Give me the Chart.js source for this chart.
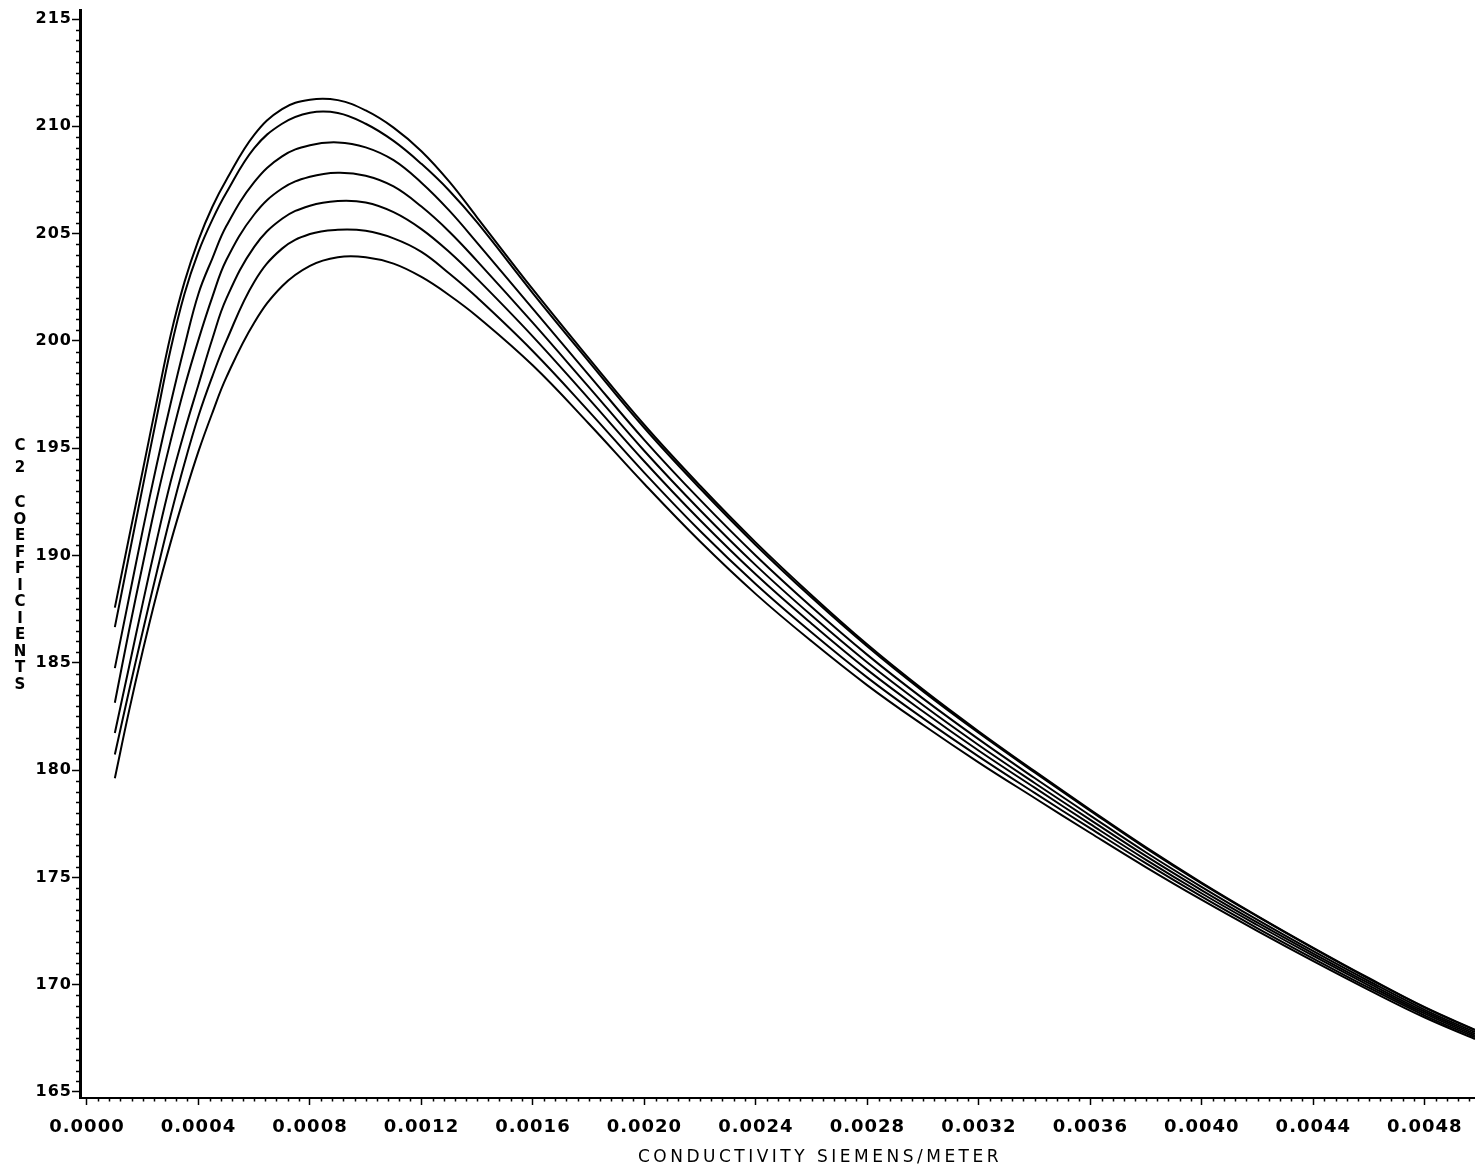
<!DOCTYPE html>
<html>
<head>
<meta charset="utf-8">
<script src="https://cdn.jsdelivr.net/npm/chart.js@4.4.1/dist/chart.umd.min.js"></script>
<style>
  html, body { margin: 0; padding: 0; background: #ffffff; }
  canvas { display: block; }
</style>
</head>
<body>
<canvas id="c2chart" width="1475" height="1171"></canvas>
<script>
// Conductivity (S/m) at which each C2 curve is sampled
const conductivity = [0.0001, 0.00015, 0.0002, 0.00025, 0.0003, 0.00035, 0.0004, 0.00045, 0.0005, 0.0006,
  0.0007, 0.0008, 0.0009, 0.001, 0.0011, 0.0012, 0.0013, 0.0014, 0.0016, 0.0018,
  0.002, 0.0022, 0.0024, 0.0026, 0.0028, 0.003, 0.0032, 0.0034, 0.0036, 0.0038,
  0.004, 0.0042, 0.0044, 0.0046, 0.0048, 0.00498];

// C2 coefficient curves, highest peak first
const c2Curve1 = [187.57, 190.78, 193.95, 197.15, 200.25, 202.75, 204.7, 206.25, 207.5, 209.6,
  210.8, 211.24, 211.22, 210.74, 209.94, 208.84, 207.42, 205.75, 202.4, 199.2,
  196.08, 193.25, 190.6, 188.15, 185.85, 183.75, 181.8, 179.95, 178.15, 176.4,
  174.75, 173.2, 171.72, 170.3, 168.95, 167.9];
const c2Curve2 = [186.66, 189.94, 193.2, 196.43, 199.6, 202.2, 204.15, 205.65, 206.9, 208.98,
  210.12, 210.63, 210.62, 210.12, 209.32, 208.25, 207.0, 205.52, 202.22, 199.05,
  195.94, 193.12, 190.48, 188.04, 185.76, 183.67, 181.73, 179.89, 178.1, 176.35,
  174.71, 173.17, 171.69, 170.27, 168.93, 167.88];
const c2Curve3 = [184.75, 187.97, 191.17, 194.22, 197.07, 199.75, 202.2, 203.85, 205.35, 207.4,
  208.6, 209.12, 209.25, 209.02, 208.42, 207.37, 206.07, 204.57, 201.49, 198.42,
  195.38, 192.59, 189.99, 187.6, 185.37, 183.33, 181.43, 179.63, 177.88, 176.16,
  174.55, 173.02, 171.56, 170.16, 168.83, 167.79];
const c2Curve4 = [183.14, 186.45, 189.57, 192.6, 195.33, 197.84, 200.05, 202.05, 203.77, 205.89,
  207.1, 207.65, 207.84, 207.7, 207.2, 206.26, 205.09, 203.72, 200.84, 197.86,
  194.87, 192.11, 189.54, 187.2, 185.01, 183.02, 181.16, 179.4, 177.68, 175.99,
  174.4, 172.89, 171.45, 170.06, 168.74, 167.71];
const c2Curve5 = [181.73, 184.75, 187.77, 190.69, 193.42, 195.79, 197.96, 200.1, 201.97, 204.38,
  205.69, 206.3, 206.52, 206.45, 206.0, 205.21, 204.14, 202.89, 200.2, 197.31,
  194.38, 191.64, 189.11, 186.82, 184.67, 182.73, 180.9, 179.18, 177.48, 175.82,
  174.25, 172.77, 171.34, 169.96, 168.65, 167.63];
const c2Curve6 = [180.73, 183.64, 186.46, 189.2, 191.85, 194.3, 196.5, 198.35, 200.0, 202.75,
  204.3, 204.98, 205.18, 205.13, 204.78, 204.15, 203.14, 202.02, 199.52, 196.73,
  193.85, 191.14, 188.66, 186.41, 184.31, 182.41, 180.63, 178.94, 177.28, 175.65,
  174.1, 172.63, 171.22, 169.85, 168.56, 167.55];
const c2Curve7 = [179.62, 182.7, 185.55, 188.2, 190.6, 192.8, 194.85, 196.65, 198.3, 200.85,
  202.55, 203.5, 203.9, 203.9, 203.6, 202.98, 202.13, 201.14, 198.85, 196.15,
  193.33, 190.65, 188.2, 186.0, 183.95, 182.1, 180.35, 178.7, 177.07, 175.47,
  173.95, 172.5, 171.1, 169.75, 168.47, 167.47];

// Labelled axis ticks
const yTickValues = [165, 170, 175, 180, 185, 190, 195, 200, 205, 210, 215];
const xTickValues = [0, 0.0004, 0.0008, 0.0012, 0.0016, 0.002, 0.0024, 0.0028, 0.0032, 0.0036, 0.004, 0.0044, 0.0048];
const yMinorStep = 0.5;
const xMinorStep = 0.00004;

const xAxisTitle = 'CONDUCTIVITY SIEMENS/METER';
const yAxisTitle = 'C2 COEFFICIENTS';

const curves = [c2Curve1, c2Curve2, c2Curve3, c2Curve4, c2Curve5, c2Curve6, c2Curve7];

const FONT = "'DejaVu Sans', 'Liberation Sans', sans-serif";
Chart.defaults.font.family = FONT;
Chart.defaults.color = '#000';

// Wider, plotter-like letter spacing for the axis numbers
const tickSpacing = {
  id: 'tickSpacing',
  beforeDraw(chart) { chart.ctx.letterSpacing = '1px'; },
  afterDraw(chart) { chart.ctx.letterSpacing = '0px'; }
};

// Short unlabelled ticks between the numbered ones
const minorTicks = {
  id: 'minorTicks',
  afterDraw(chart) {
    const { ctx, chartArea, scales: { x, y } } = chart;
    ctx.save();
    ctx.strokeStyle = '#000';
    ctx.lineWidth = 1.5;
    ctx.beginPath();
    const yFirst = yTickValues[0], yLast = yTickValues[yTickValues.length - 1];
    for (let k = 0; yFirst + k * yMinorStep <= yLast + 1e-9; k++) {
      if (k % 10 === 0) continue;
      const py = Math.round(y.getPixelForValue(yFirst + k * yMinorStep)) + 0.5;
      ctx.moveTo(chartArea.left - 4, py);
      ctx.lineTo(chartArea.left, py);
    }
    for (let k = 1; k * xMinorStep <= x.max; k++) {
      if (k % 10 === 0) continue;
      const px = Math.round(x.getPixelForValue(k * xMinorStep)) + 0.5;
      ctx.moveTo(px, chartArea.bottom);
      ctx.lineTo(px, chartArea.bottom + 3.5);
    }
    ctx.stroke();
    ctx.restore();
  }
};

// Axis titles: spaced capitals along x, stacked letters along y
const axisTitles = {
  id: 'axisTitles',
  afterDraw(chart) {
    const ctx = chart.ctx;
    ctx.save();
    ctx.fillStyle = '#000';
    ctx.textAlign = 'center';
    ctx.textBaseline = 'middle';
    ctx.letterSpacing = '3.5px';
    ctx.font = `17px ${FONT}`;
    ctx.fillText(xAxisTitle, 820, 1158);
    ctx.letterSpacing = '0px';
    ctx.font = `bold 15px ${FONT}`;
    const chars = yAxisTitle.split('');
    chars.forEach((ch, i) => {
      if (ch === ' ') return;
      let cy;
      if (i === 0) cy = 446;
      else if (i === 1) cy = 468;
      else cy = 503.5 + (i - 3) * 16.5;
      ctx.fillText(ch, 20, cy);
    });
    ctx.restore();
  }
};

new Chart(document.getElementById('c2chart'), {
  type: 'line',
  data: {
    datasets: curves.map((vals, n) => ({
      label: 'C2 ' + (n + 1),
      data: conductivity.map((cx, i) => ({ x: cx, y: vals[i] })),
      borderColor: '#000',
      borderWidth: 2,
      pointRadius: 0,
      fill: false,
      tension: 0.4
    }))
  },
  options: {
    responsive: false,
    animation: false,
    devicePixelRatio: 1,
    layout: { padding: { top: 10, left: 0, right: 0, bottom: 0 } },
    plugins: { legend: { display: false }, tooltip: { enabled: false }, title: { display: false } },
    scales: {
      x: {
        type: 'linear',
        min: -0.000025,
        max: 0.00498,
        afterBuildTicks: s => { s.ticks = xTickValues.map(v => ({ value: v })); },
        afterFit: s => { s.height = 73; },
        ticks: {
          callback: v => Number(v).toFixed(4),
          font: { size: 18, weight: 'bold' },
          color: '#000',
          padding: 12,
          maxRotation: 0,
          autoSkip: false
        },
        grid: { display: true, drawOnChartArea: false, drawTicks: true, tickLength: 7, tickWidth: 1.5, tickColor: '#000' },
        border: { display: true, color: '#000', width: 2 }
      },
      y: {
        type: 'linear',
        min: 164.72,
        max: 215.42,
        afterBuildTicks: s => { s.ticks = yTickValues.map(v => ({ value: v })); },
        afterFit: s => { s.width = 80; },
        ticks: {
          callback: v => String(v),
          font: { size: 16, weight: 'bold' },
          color: '#000',
          padding: 0,
          autoSkip: false
        },
        grid: { display: true, drawOnChartArea: false, drawTicks: true, tickLength: 8, tickWidth: 1.5, tickColor: '#000' },
        border: { display: true, color: '#000', width: 3 }
      }
    }
  },
  plugins: [tickSpacing, minorTicks, axisTitles]
});
</script>
</body>
</html>
